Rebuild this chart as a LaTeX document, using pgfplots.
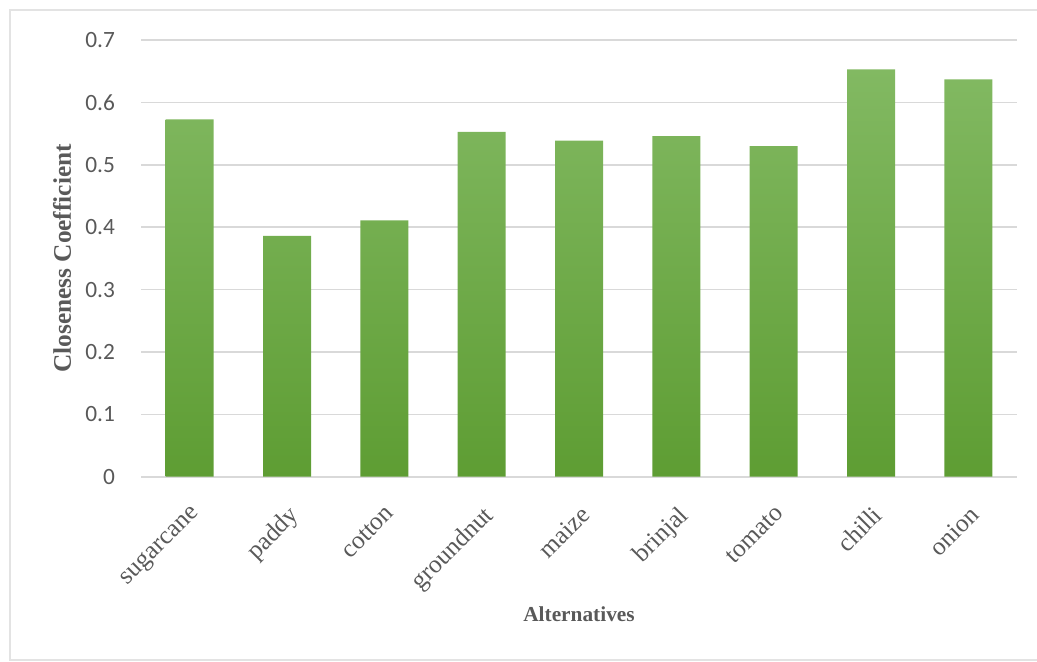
\documentclass[border=0pt]{standalone}
\usepackage{pgfplots}
\pgfplotsset{compat=1.18}
\usepackage{fontspec}
\setmainfont{Liberation Serif}
\newfontfamily\calibri{Carlito}
\definecolor{txt}{HTML}{595959}
\definecolor{gridc}{HTML}{D9D9D9}
\definecolor{bartop}{RGB}{130,185,98}
\definecolor{barbot}{RGB}{94,157,51}
\definecolor{framec}{HTML}{E3E3E3}
\begin{document}
\begin{tikzpicture}[x=0.75pt,y=0.75pt]
\useasboundingbox (0,0) rectangle (1037,661);
\draw[framec, line width=1.2pt] (10,1) rectangle (1045,651);
\begin{axis}[
  at={(105.75pt,138.2pt)}, anchor=south west,
  scale only axis, width=657pt, height=327.5pt,
  xmin=-0.5, xmax=8.5, ymin=0, ymax=0.7,
  ytick={0,0.1,...,0.7},
  yticklabel style={/pgf/number format/fixed, /pgf/number format/precision=1, font=\calibri\fontsize{17.5}{19}\selectfont, text=txt, xshift=-16pt},
  /pgf/number format/assume math mode=true,
  xtick=data,
  xticklabels={sugarcane,paddy,cotton,groundnut,maize,brinjal,tomato,chilli,onion},
  xticklabel style={rotate=45, anchor=north east, font=\fontsize{19}{21}\selectfont, text=txt, yshift=-11.5pt, xshift=-11pt},
  axis line style={draw=none},
  major tick length=0pt,
  ymajorgrids, grid style={gridc, line width=1.2pt},
  ylabel={Closeness Coefficient},
  xlabel={Alternatives},
  ylabel style={at={(axis description cs:-0.09,0.5)}, anchor=center, font=\bfseries\fontsize{19}{22}\selectfont, text=txt},
  xlabel style={at={(axis description cs:0.5,-0.314)}, anchor=center, font=\bfseries\fontsize{16}{18}\selectfont, text=txt},
  ybar, bar width=36pt,
]
\addplot[draw=none, shading=axis, top color=bartop, bottom color=barbot] coordinates {
(0,0.573) (1,0.386) (2,0.411) (3,0.553) (4,0.539) (5,0.546) (6,0.530) (7,0.653) (8,0.637)};
\end{axis}
\end{tikzpicture}
\end{document}
